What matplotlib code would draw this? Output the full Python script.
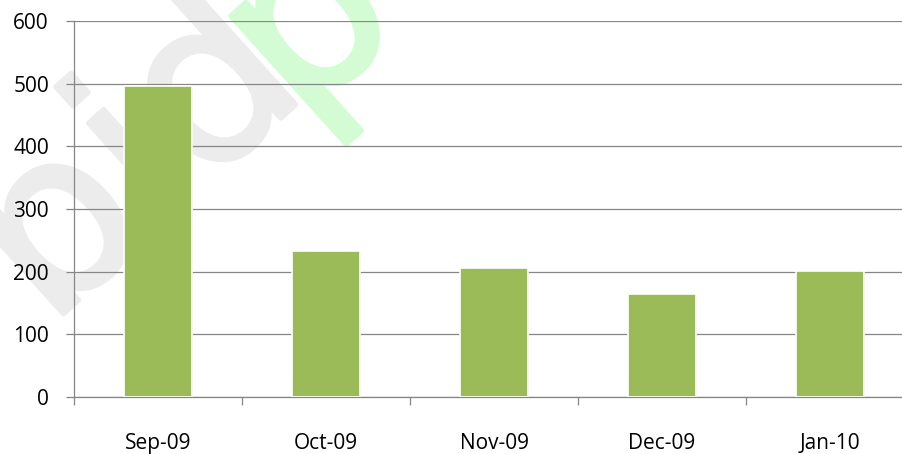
import matplotlib
matplotlib.use("Agg")
import matplotlib.pyplot as plt
import matplotlib.patheffects as pe

# monthly totals
months = ['Sep-09', 'Oct-09', 'Nov-09', 'Dec-09', 'Jan-10']
values = [497, 233, 206, 165, 201]
y_ticks = [0, 100, 200, 300, 400, 500, 600]

BAR = '#9BBB59'
GRID = '#868686'

W, H = 902, 454
fig = plt.figure(figsize=(W / 100, H / 100), dpi=100)
fig.patch.set_facecolor('white')

# faint site watermark behind the plot
wm_font = dict(family='DejaVu Sans', fontsize=165, rotation=42,
               rotation_mode='anchor', ha='left', va='baseline', zorder=-5)
fig.text(48 / W, 1 - 328 / H, 'bid', color='#ececec',
         path_effects=[pe.withStroke(linewidth=3.5, foreground='#ececec')], **wm_font)
fig.text(299 / W, 1 - 123 / H, 'p', color='#d4fcd4',
         path_effects=[pe.withStroke(linewidth=3.5, foreground='#d4fcd4')], **wm_font)

# plot area runs slightly past the right edge of the image
ax = fig.add_axes([74 / W, 1 - 397 / H, 840 / W, 376 / H])
ax.set_facecolor('none')

x = range(len(months))
bars = ax.bar(x, values, width=0.4, color=BAR, edgecolor='white',
              linewidth=1.2, zorder=3)
for b in bars:
    b.set_path_effects([pe.SimplePatchShadow(offset=(1, -2), shadow_rgbFace='#777777', alpha=0.35),
                        pe.Normal()])

ax.set_xlim(-0.5, len(months) - 0.5)
ax.set_ylim(0, 600)
ax.set_yticks(y_ticks)
ax.set_yticklabels([str(v) for v in y_ticks])
ax.yaxis.grid(True, color=GRID, linewidth=0.9, zorder=1)
ax.set_axisbelow(True)

# category labels centred, tick marks on the boundaries
ax.set_xticks(list(x))
ax.set_xticklabels(months)
ax.set_xticks([i - 0.5 for i in range(len(months) + 1)], minor=True)
ax.tick_params(axis='x', which='major', length=0, pad=26)
ax.tick_params(axis='x', which='minor', length=6, width=0.9, color=GRID, direction='out')
ax.tick_params(axis='y', length=6, width=0.9, color=GRID, direction='out', pad=12)

for side in ['top', 'right']:
    ax.spines[side].set_visible(False)
for side in ['left', 'bottom']:
    ax.spines[side].set_color(GRID)
    ax.spines[side].set_linewidth(0.9)

for lab in ax.get_xticklabels() + ax.get_yticklabels():
    lab.set_fontfamily('Open Sans')
    lab.set_fontsize(15)
    lab.set_color('black')

fig.savefig('out.png', dpi=100)
